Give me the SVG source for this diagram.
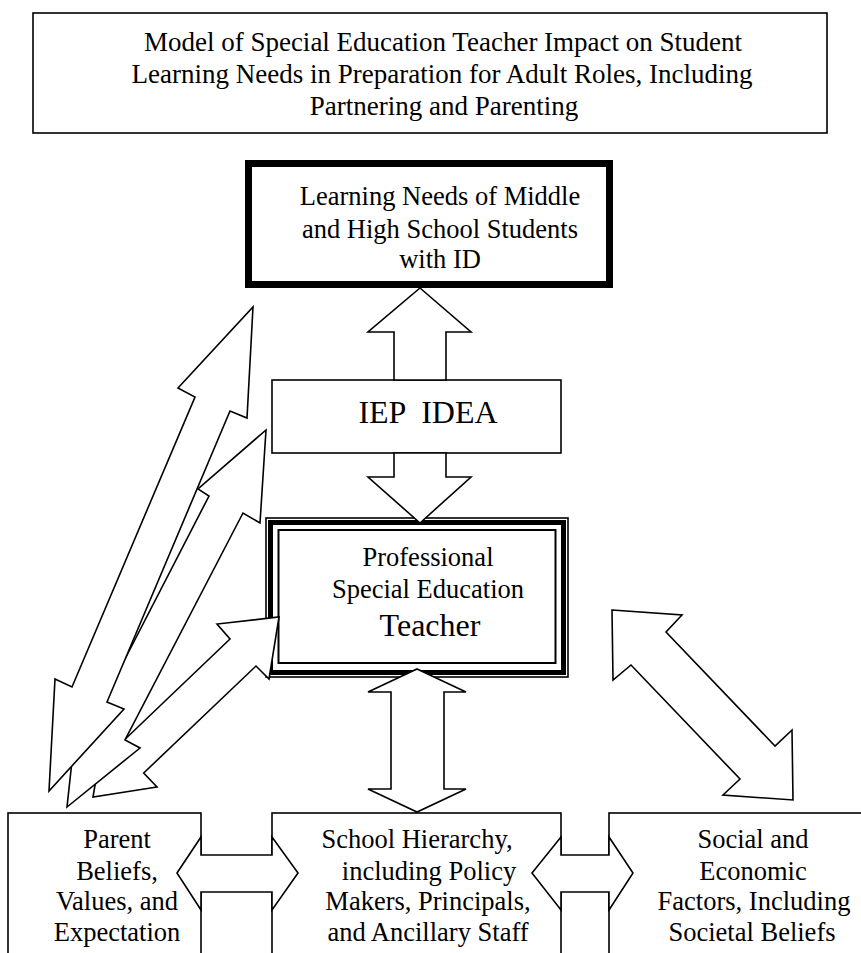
<svg xmlns="http://www.w3.org/2000/svg" width="861" height="953" viewBox="0 0 861 953">
<style>
  .box{fill:#fff;stroke:#000;stroke-width:1.6}
  .thick{fill:#fff;stroke:#000;stroke-width:7}
  .arrow{fill:#fff;stroke:#000;stroke-width:1.6;stroke-linejoin:miter}
  text{font-family:"Liberation Serif","Times New Roman",serif;fill:#000;text-anchor:middle}
  .t{font-size:26.5px}
  .title{font-size:27px}
  .big{font-size:32px}
</style>
<rect width="861" height="953" fill="#fff"/>

<g id="title">
  <rect class="box" x="33" y="13" width="794" height="120"/>
  <text class="title" x="443" y="51">Model of Special Education Teacher Impact on Student</text>
  <text class="title" x="442" y="83">Learning Needs in Preparation for Adult Roles, Including</text>
  <text class="title" x="444" y="115">Partnering and Parenting</text>
</g>

<g id="learning-needs">
  <rect class="thick" x="248.5" y="163.5" width="361" height="121"/>
  <text class="t" x="440" y="205">Learning Needs of Middle</text>
  <text class="t" x="440" y="238">and High School Students</text>
  <text class="t" x="440" y="268">with ID</text>
</g>

<g id="iep-idea">
  <rect class="box" x="272" y="380" width="289" height="73"/>
  <text class="big" x="428" y="423" xml:space="preserve">IEP  IDEA</text>
</g>

<g id="teacher">
  <rect fill="#fff" stroke="#000" stroke-width="1.6" x="266" y="518" width="302" height="159"/>
  <rect fill="none" stroke="#000" stroke-width="5" x="270.5" y="522.5" width="293" height="150"/>
  <rect fill="none" stroke="#000" stroke-width="2" x="278.5" y="530" width="277" height="133"/>
  <text class="t" x="428" y="566">Professional</text>
  <text class="t" x="428" y="598">Special Education</text>
  <text class="big" x="430" y="636">Teacher</text>
</g>

<g id="parent">
  <rect class="box" x="8" y="813" width="193" height="200"/>
  <text class="t" x="117" y="848">Parent</text>
  <text class="t" x="117" y="880">Beliefs,</text>
  <text class="t" x="117" y="910">Values, and</text>
  <text class="t" x="117" y="941">Expectation</text>
</g>

<g id="school">
  <rect class="box" x="272" y="813" width="289" height="200"/>
  <text class="t" x="417" y="848">School Hierarchy,</text>
  <text class="t" x="429" y="880">including Policy</text>
  <text class="t" x="428" y="910">Makers, Principals,</text>
  <text class="t" x="428" y="941">and Ancillary Staff</text>
</g>

<g id="social">
  <rect class="box" x="609" y="813" width="300" height="200"/>
  <text class="t" x="753" y="848">Social and</text>
  <text class="t" x="753" y="880">Economic</text>
  <text class="t" x="754" y="910">Factors, Including</text>
  <text class="t" x="752" y="941">Societal Beliefs</text>
</g>

<g id="connectors">
  <polygon class="arrow" points="279,617 269,679 256,666 143.7,773 157,787 93,797 104,733 118,746 230,639 217,624"/>
  <polygon class="arrow" points="266,430 260,523 243,513 125,740 140,748 67,807 77,715 92,723 209,496 198,489"/>
  <polygon class="arrow" points="253,307 247,418 230,411 107,702 124,709 49,791 55,679 72,687 195,397 178,388"/>
  <polygon class="arrow" points="612,610 682,615 666,632 775,746 792,730 793,800 723,795 740,779 631,665 613,680"/>
  <polygon class="arrow" points="420,288 471,332 446,332 446,380 394,380 394,332 368,332"/>
  <polygon class="arrow" points="394,453 446,453 446,477 471,477 420,523 368,477 394,477"/>
  <polygon class="arrow" points="417,669 466,692 444,692 444,789 466,789 417,812 368,789 391,789 391,692 368,692"/>
  <polygon class="arrow" points="177,873 201,837 201,855 272,855 272,837 298,873 272,910 272,892 201,892 201,910"/>
  <polygon class="arrow" points="532,873 561,837 561,855 609,855 609,837 633,873 609,910 609,892 561,892 561,910"/>
</g>
</svg>
